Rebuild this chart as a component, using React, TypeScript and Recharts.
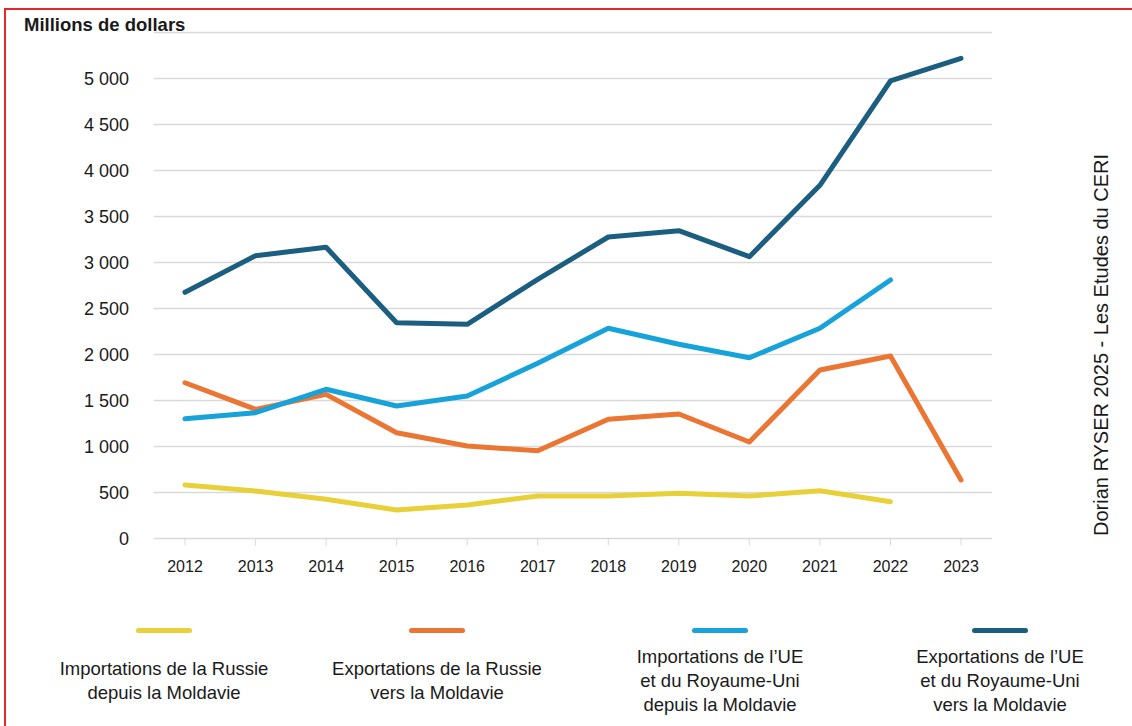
import { LineChart, Line, XAxis, YAxis, CartesianGrid } from "recharts";

const years = ["2012", "2013", "2014", "2015", "2016", "2017", "2018", "2019", "2020", "2021", "2022", "2023"];

// millions de dollars
const importsRussia = [582, 516, 426, 310, 364, 462, 462, 491, 462, 520, 400, null];
const exportsRussia = [1693, 1404, 1567, 1150, 1005, 954, 1296, 1353, 1049, 1832, 1984, 636];
const importsEuUk = [1302, 1368, 1622, 1440, 1549, 1904, 2285, 2111, 1965, 2285, 2810, null];
const exportsEuUk = [2676, 3074, 3165, 2346, 2328, 2817, 3277, 3346, 3063, 3839, 4973, 5220];

const yTicks = [0, 500, 1000, 1500, 2000, 2500, 3000, 3500, 4000, 4500, 5000];

const seriesKeys = ["importsRussia", "exportsRussia", "importsEuUk", "exportsEuUk"];
const seriesColors = ["#E8D038", "#EB7532", "#17A2D9", "#1B5E80"];
const seriesLabels = [
  "Importations de la Russie\ndepuis la Moldavie",
  "Exportations de la Russie\nvers la Moldavie",
  "Importations de l\u2019UE\net du Royaume-Uni\ndepuis la Moldavie",
  "Exportations de l\u2019UE\net du Royaume-Uni\nvers la Moldavie",
];
const legendCenters = [164, 437, 720, 1000];

const data = years.map((year, i) => ({
  year,
  importsRussia: importsRussia[i],
  exportsRussia: exportsRussia[i],
  importsEuUk: importsEuUk[i],
  exportsEuUk: exportsEuUk[i],
}));

const FONT = '"Liberation Sans", Arial, Helvetica, sans-serif';

const fmt = (v: number) => v.toLocaleString("fr-FR").replace(/[\u202f\u00a0 ]/g, "\u00a0");

export default function App() {
  return (
    <div
      style={{
        position: "absolute",
        left: 0,
        top: 0,
        width: 1132,
        height: 726,
        overflow: "hidden",
        background: "#fff",
        fontFamily: FONT,
        color: "#1a1a1a",
      }}
    >
      {/* cadre rouge */}
      <div
        style={{
          position: "absolute",
          left: 4,
          top: 8,
          width: 1200,
          height: 800,
          border: "2px solid #E5262B",
        }}
      />

      <div style={{ position: "absolute", left: 24, top: 14, fontSize: 18.5, fontWeight: 700, lineHeight: "22px" }}>
        Millions de dollars
      </div>

      <div style={{ position: "absolute", left: 0, top: 0 }}>
        <LineChart
          width={1132}
          height={600}
          data={data}
          margin={{ top: 32.5, right: 140, left: 23, bottom: 0 }}
        >
          <CartesianGrid vertical={false} stroke="#d9d9d9" strokeWidth={1.3} />
          <XAxis
            dataKey="year"
            height={61.5}
            padding={{ left: 31, right: 31 }}
            stroke="#d9d9d9"
            tickSize={7}
            tickMargin={15}
            tick={{ fontSize: 16, fill: "#1a1a1a", fontFamily: FONT }}
            interval={0}
          />
          <YAxis
            width={131}
            domain={[0, 5500]}
            ticks={yTicks}
            axisLine={false}
            tickLine={false}
            tickSize={6}
            tickMargin={19}
            tickFormatter={fmt}
            tick={{ fontSize: 18, fill: "#1a1a1a", fontFamily: FONT }}
          />
          {seriesKeys.map((key, i) => (
            <Line
              key={key}
              dataKey={key}
              type="linear"
              stroke={seriesColors[i]}
              strokeWidth={5}
              strokeLinecap="round"
              strokeLinejoin="round"
              dot={false}
              activeDot={false}
              isAnimationActive={false}
            />
          ))}
        </LineChart>
      </div>

      {/* légende */}
      {seriesLabels.map((label, i) => (
        <div key={label}>
          <div
            style={{
              position: "absolute",
              left: legendCenters[i] - 28,
              top: 627.5,
              width: 56,
              height: 5,
              borderRadius: 3,
              background: seriesColors[i],
            }}
          />
          <div
            style={{
              position: "absolute",
              left: legendCenters[i] - 140,
              top: 645,
              width: 280,
              height: 72,
              display: "flex",
              alignItems: "center",
              justifyContent: "center",
              textAlign: "center",
              whiteSpace: "pre-line",
              fontSize: 18.5,
              lineHeight: "24px",
            }}
          >
            {label}
          </div>
        </div>
      ))}

      <div
        style={{
          position: "absolute",
          left: 1101,
          top: 345,
          transform: "translate(-50%, -50%) rotate(-90deg)",
          whiteSpace: "nowrap",
          fontSize: 20,
          lineHeight: "22px",
        }}
      >
        Dorian RYSER 2025 - Les Etudes du CERI
      </div>
    </div>
  );
}
